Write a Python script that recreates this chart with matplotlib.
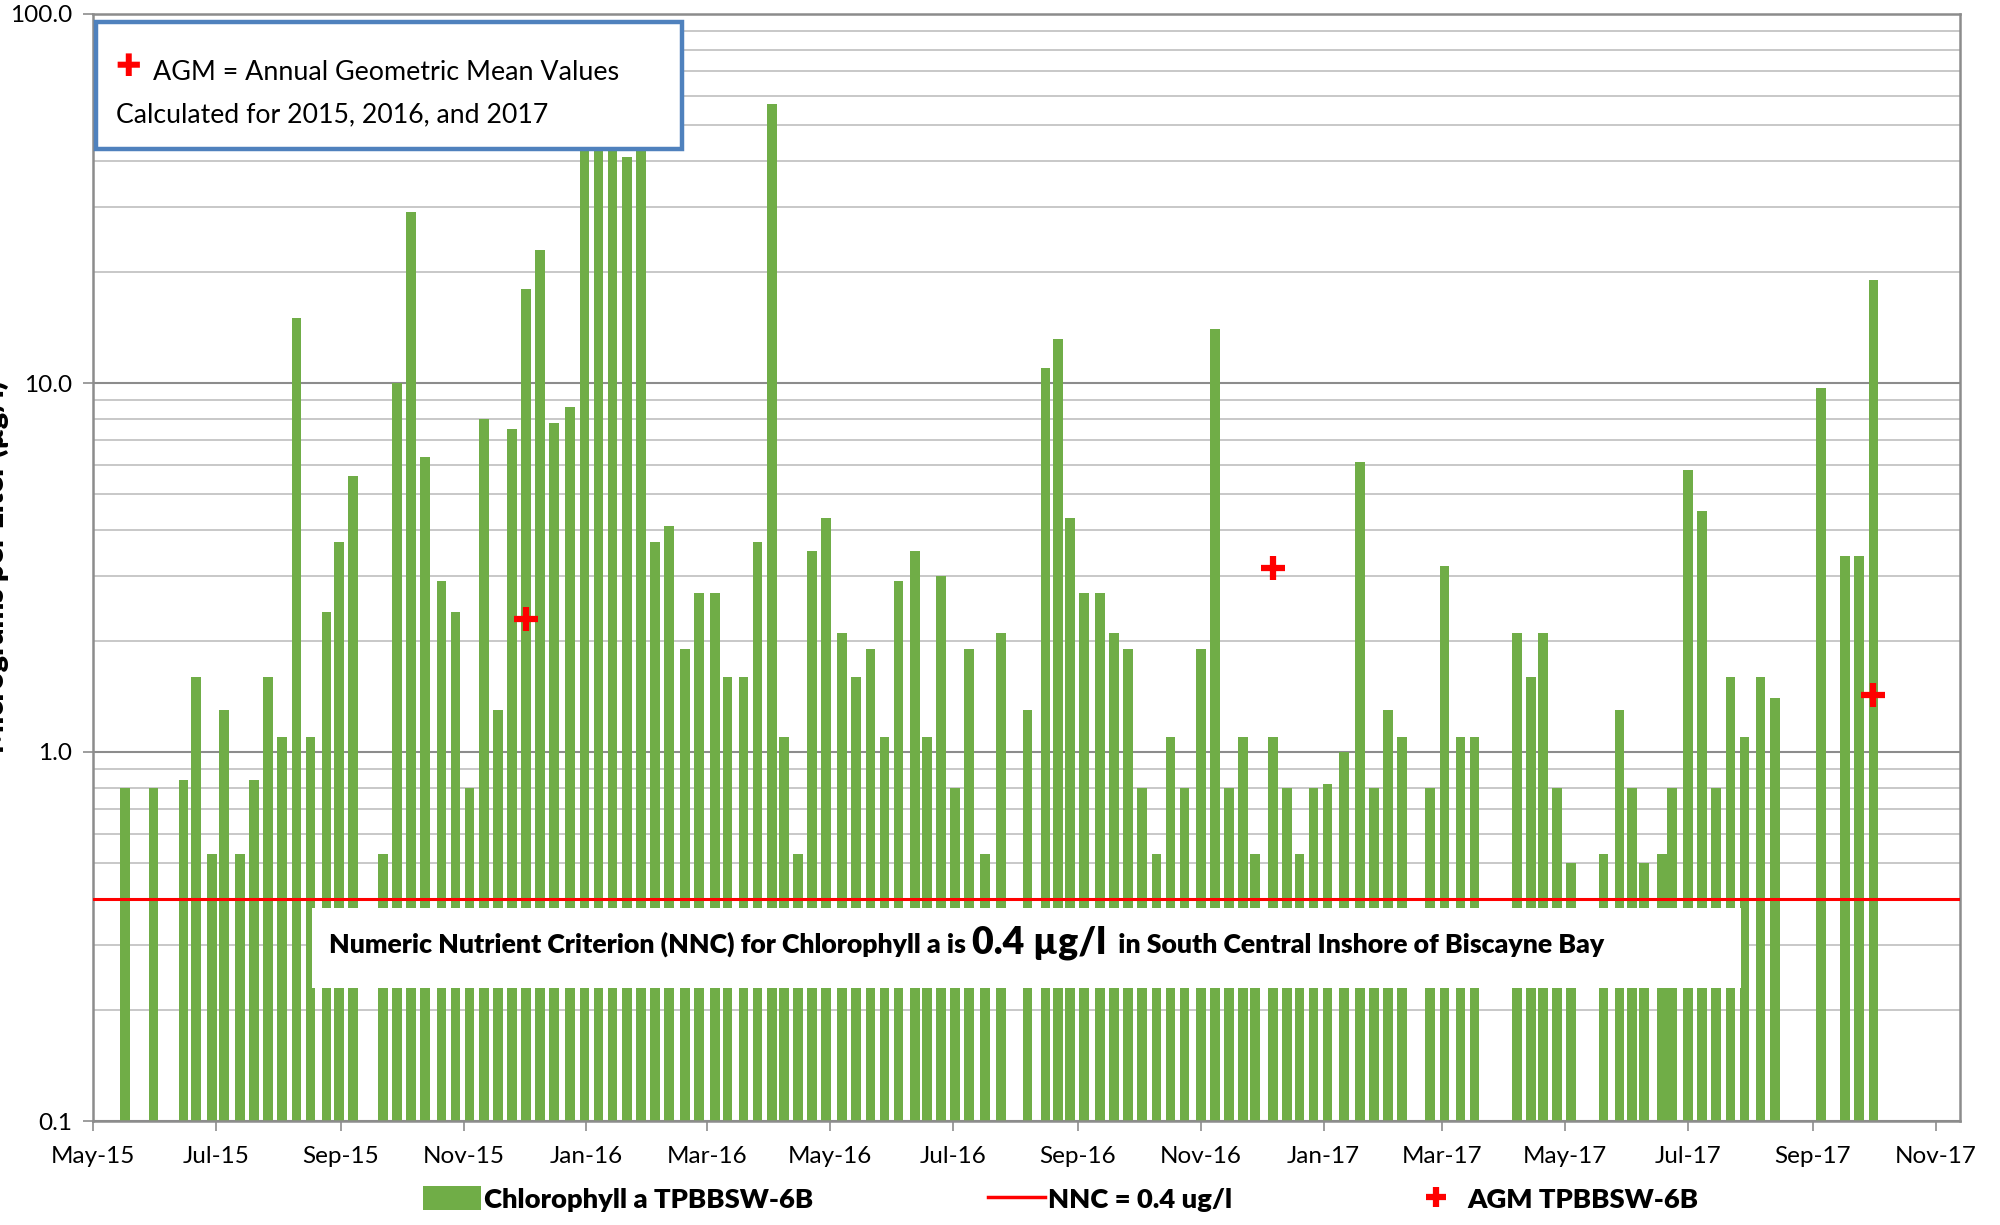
import numpy as np
import pandas as pd
import matplotlib
matplotlib.use("Agg")
import matplotlib.pyplot as plt
import matplotlib.dates as mdates
from matplotlib.ticker import LogLocator, FixedLocator, FuncFormatter, NullFormatter
from matplotlib.patches import Rectangle, Patch
from matplotlib.lines import Line2D

plt.rcParams['font.family'] = ['Lato', 'DejaVu Sans']

# sample dates and chlorophyll a values (ug/l)
sample_dates = [
    '2015-05-17', '2015-05-31', '2015-06-15', '2015-06-21', '2015-06-29', '2015-07-05',
    '2015-07-13', '2015-07-20', '2015-07-27', '2015-08-03', '2015-08-10', '2015-08-17',
    '2015-08-25', '2015-08-31', '2015-09-07', '2015-09-22', '2015-09-29', '2015-10-06',
    '2015-10-13', '2015-10-21', '2015-10-28', '2015-11-04', '2015-11-11', '2015-11-18',
    '2015-11-25', '2015-12-02', '2015-12-09', '2015-12-16', '2015-12-24', '2015-12-31',
    '2016-01-07', '2016-01-14', '2016-01-21', '2016-01-28', '2016-02-04', '2016-02-11',
    '2016-02-19', '2016-02-26', '2016-03-05', '2016-03-11', '2016-03-19', '2016-03-26',
    '2016-04-02', '2016-04-08', '2016-04-15', '2016-04-22', '2016-04-29', '2016-05-07',
    '2016-05-14', '2016-05-21', '2016-05-28', '2016-06-04', '2016-06-12', '2016-06-18',
    '2016-06-25', '2016-07-02', '2016-07-09', '2016-07-17', '2016-07-25', '2016-08-07',
    '2016-08-16', '2016-08-22', '2016-08-28', '2016-09-04', '2016-09-12', '2016-09-19',
    '2016-09-26', '2016-10-03', '2016-10-10', '2016-10-17', '2016-10-24', '2016-11-01',
    '2016-11-08', '2016-11-15', '2016-11-22', '2016-11-28', '2016-12-07', '2016-12-14',
    '2016-12-20', '2016-12-27', '2017-01-03', '2017-01-11', '2017-01-19', '2017-01-26',
    '2017-02-02', '2017-02-09', '2017-02-23', '2017-03-02', '2017-03-10', '2017-03-17',
    '2017-04-07', '2017-04-14', '2017-04-20', '2017-04-27', '2017-05-04', '2017-05-20',
    '2017-05-28', '2017-06-03', '2017-06-09', '2017-06-18', '2017-06-23', '2017-07-01',
    '2017-07-08', '2017-07-15', '2017-07-22', '2017-07-29', '2017-08-06', '2017-08-13',
    '2017-09-05', '2017-09-17', '2017-09-24', '2017-10-01',
]
chl_values = [
    0.80, 0.80, 0.84, 1.6, 0.53, 1.3,
    0.53, 0.84, 1.6, 1.1, 15.0, 1.1,
    2.4, 3.7, 5.6, 0.53, 10.0, 29.0,
    6.3, 2.9, 2.4, 0.80, 8.0, 1.3,
    7.5, 18.0, 23.0, 7.8, 8.6, 46.0,
    48.0, 45.0, 41.0, 50.0, 3.7, 4.1,
    1.9, 2.7, 2.7, 1.6, 1.6, 3.7,
    57.0, 1.1, 0.53, 3.5, 4.3, 2.1,
    1.6, 1.9, 1.1, 2.9, 3.5, 1.1,
    3.0, 0.80, 1.9, 0.53, 2.1, 1.3,
    11.0, 13.2, 4.3, 2.7, 2.7, 2.1,
    1.9, 0.80, 0.53, 1.1, 0.80, 1.9,
    14.0, 0.80, 1.1, 0.53, 1.1, 0.80,
    0.53, 0.80, 0.82, 1.0, 6.1, 0.80,
    1.3, 1.1, 0.80, 3.2, 1.1, 1.1,
    2.1, 1.6, 2.1, 0.80, 0.50, 0.53,
    1.3, 0.80, 0.50, 0.53, 0.80, 5.8,
    4.5, 0.80, 1.6, 1.1, 1.6, 1.4,
    9.7, 3.4, 3.4, 19.0,
]

agm_dates = ['2015-12-02', '2016-12-07', '2017-10-01']
agm_values = [2.3, 3.15, 1.43]

nnc = 0.4

green = '#70AD47'
red = '#FF0000'

dates = pd.to_datetime(sample_dates)
agm_d = pd.to_datetime(agm_dates)

W, H = 2000, 1225
fig = plt.figure(figsize=(20, 12.25), dpi=100)
ax = fig.add_axes([93 / W, 1 - 1121 / H, (1960 - 93) / W, (1121 - 14) / H])


def fx(px):
    return px / W


def fy(py):
    return 1 - py / H


ax.bar(dates, chl_values, width=4.8, color=green, zorder=2)
ax.axhline(nnc, color=red, lw=2.2, zorder=3)
ax.plot(agm_d, agm_values, ls='none', marker='+', ms=17, mew=4.5, color=red, zorder=4)

ax.set_yscale('log')
ax.set_ylim(0.1, 100)
ax.set_xlim(pd.Timestamp('2015-05-01'), pd.Timestamp('2017-11-13'))

ax.yaxis.set_major_locator(FixedLocator([0.1, 1, 10, 100]))
ax.yaxis.set_major_formatter(FuncFormatter(lambda v, p: f'{v:.1f}'))
ax.yaxis.set_minor_locator(LogLocator(base=10, subs=range(2, 10)))
ax.yaxis.set_minor_formatter(NullFormatter())
ax.grid(which='major', axis='y', color='#8C8C8C', lw=1.5, zorder=0)
ax.grid(which='minor', axis='y', color='#BFBFBF', lw=1.2, zorder=0)
ax.set_axisbelow(True)

ax.xaxis.set_major_locator(mdates.MonthLocator(bymonth=[1, 3, 5, 7, 9, 11]))
ax.xaxis.set_major_formatter(mdates.DateFormatter('%b-%y'))

ax.tick_params(axis='both', which='major', direction='out', length=7, width=1.2,
               color='#8C8C8C', labelsize=17.5, labelcolor='black')
ax.tick_params(axis='x', pad=11)
ax.tick_params(axis='y', pad=8)
ax.tick_params(which='minor', length=0)
for s in ax.spines.values():
    s.set_color('#8C8C8C')
    s.set_linewidth(1.8)

# y label, mostly cut off at the left edge as in the original
fig.text(fx(9), 0.537, 'Micrograms per Liter (µg/l)', rotation=90, ha='right', va='center',
         fontsize=22, fontweight='heavy')

# AGM note box
fig.add_artist(Rectangle((fx(96), fy(149)), fx(682 - 96), (149 - 22) / H,
                         facecolor='white', edgecolor='#4F81BD', lw=3.2, zorder=5))
fig.text(fx(128), fy(68), '✚', color=red, fontsize=22, ha='center', va='center',
         family='DejaVu Sans', zorder=6)
fig.text(fx(153), fy(73), 'AGM = Annual Geometric Mean Values', fontsize=19.4,
         ha='left', va='center', zorder=6)
fig.text(fx(116), fy(115), 'Calculated for 2015, 2016, and 2017', fontsize=19.2,
         ha='left', va='center', zorder=6)

# NNC note box
fig.add_artist(Rectangle((fx(312), fy(988)), fx(1741 - 312), (988 - 908) / H,
                         facecolor='white', edgecolor='none', zorder=5))
fig.canvas.draw()
rend = fig.canvas.get_renderer()
parts = [('Numeric Nutrient Criterion (NNC) for Chlorophyll a is ', 19.2),
         ('0.4 µg/l', 27),
         ('  in South Central Inshore of Biscayne Bay', 19.2)]
xpos = fx(329)
for txt, size in parts:
    t = fig.text(xpos, fy(953), txt, fontsize=size, fontweight='heavy', ha='left',
                 va='baseline', zorder=6)
    bb = t.get_window_extent(rend)
    xpos = bb.x1 / W

handles = [Patch(facecolor=green, edgecolor='none'),
           Line2D([], [], color=red, lw=2.5),
           Line2D([], [], ls='none', marker='+', ms=14, mew=4.5, color=red)]
labels = ['Chlorophyll a TPBBSW-6B', 'NNC = 0.4 ug/l', 'AGM TPBBSW-6B']
fig.legend(handles, labels, loc='center', bbox_to_anchor=(0.5305, fy(1199)), ncol=3,
           frameon=False, prop={'size': 19.7, 'weight': 'heavy'}, handlelength=2.1,
           handleheight=0.95, handletextpad=0.1, columnspacing=6.4)

fig.savefig('out.png', dpi=100)
